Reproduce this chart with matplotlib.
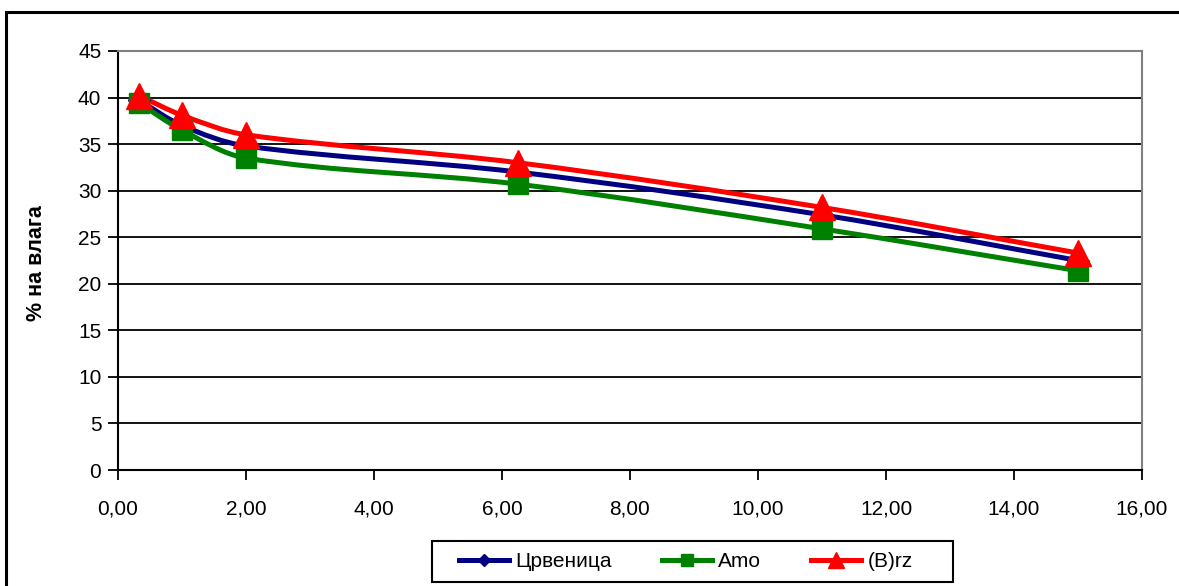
import numpy as np
import matplotlib
matplotlib.use("Agg")
import matplotlib.pyplot as plt
from matplotlib.path import Path
from matplotlib.patches import PathPatch, Rectangle
from matplotlib.lines import Line2D
from matplotlib.ticker import FuncFormatter, MultipleLocator

plt.rcParams['font.family'] = ['Liberation Sans', 'DejaVu Sans']

# data
x_vals = [0.33, 1.0, 2.0, 6.25, 11.0, 15.0]
crvenica = [39.7, 37.0, 34.8, 32.0, 27.4, 22.5]
amo = [39.4, 36.5, 33.5, 30.7, 25.9, 21.4]
brz = [40.2, 38.1, 36.0, 33.0, 28.2, 23.3]
names = ['Црвеница', 'Amo', '(B)rz']
colors = ['#000080', '#008000', '#FF0000']
markers = ['D', 's', '^']
msizes = [11, 15, 19]

# px per data unit, only used to weigh the bezier handles
SX, SY = 64.0, 9.31
W, H = 1179, 586


def smooth_path(xs, ys):
    # bezier path like excel's smoothed line
    p = np.column_stack([xs, ys])
    n = len(p)
    seg = [np.hypot((p[i + 1, 0] - p[i, 0]) * SX, (p[i + 1, 1] - p[i, 1]) * SY)
           for i in range(n - 1)]
    verts = [p[0]]
    codes = [Path.MOVETO]
    for i in range(n - 1):
        if i > 0:
            t0 = (p[i + 1] - p[i - 1]) * seg[i] / (seg[i - 1] + seg[i])
        else:
            t0 = p[i + 1] - p[i]
        if i + 2 < n:
            t1 = (p[i + 2] - p[i]) * seg[i] / (seg[i] + seg[i + 1])
        else:
            t1 = p[i + 1] - p[i]
        c1 = p[i] + t0 / 3.0
        c2 = p[i + 1] - t1 / 3.0
        verts += [c1, c2, p[i + 1]]
        codes += [Path.CURVE4] * 3
    return Path(verts, codes)


fig = plt.figure(figsize=(W / 100, H / 100), dpi=100)
ax = fig.add_axes([118 / W, 1 - 470 / H, 1024 / W, 419 / H])

series = [crvenica, amo, brz]
for ys, c, m, ms in zip(series, colors, markers, msizes):
    ax.add_patch(PathPatch(smooth_path(x_vals, ys), facecolor='none',
                           edgecolor=c, lw=3.6, zorder=3, capstyle='round'))
    ax.plot(x_vals, ys, ls='none', marker=m, ms=ms, color=c, zorder=4)

ax.set_xlim(0, 16)
ax.set_ylim(0, 45)
ax.xaxis.set_major_locator(MultipleLocator(2))
ax.yaxis.set_major_locator(MultipleLocator(5))
ax.xaxis.set_major_formatter(FuncFormatter(lambda v, p: f"{v:.2f}".replace('.', ',')))
ax.yaxis.set_major_formatter(FuncFormatter(lambda v, p: f"{v:.0f}"))
ax.tick_params(axis='both', direction='out', length=7, width=1.3,
               labelsize=15, pad=5, color='black')
ax.tick_params(axis='x', pad=14)
ax.grid(axis='y', color='black', lw=1.3, zorder=1)
ax.set_axisbelow(True)
for s in ['left', 'bottom']:
    ax.spines[s].set_color('black')
    ax.spines[s].set_linewidth(1.5)
for s in ['top', 'right']:
    ax.spines[s].set_color('#808080')
    ax.spines[s].set_linewidth(1.5)

fig.text(36 / W, 1 - 263 / H, '% на влага', fontsize=15.5,
         fontweight='bold', rotation=90, ha='center', va='center')

handles = [Line2D([], [], color=c, lw=3.6, marker=m, ms=ms * 0.6)
           for c, m, ms in zip(colors, markers, msizes)]
leg = fig.legend(handles, names, loc='center', bbox_to_anchor=(686 / W, 1 - 561.5 / H),
                 ncol=3, fontsize=15, frameon=False,
                 handlelength=2.4, columnspacing=2.4, borderpad=0.2,
                 handletextpad=0.3)
# legend box drawn by hand, excel pads it unevenly
fig.patches.append(Rectangle((432 / W, 1 - 582 / H), 521 / W, 41 / H,
                             transform=fig.transFigure, fill=False,
                             edgecolor='black', lw=1.5))

# outer chart border
fig.patches.append(Rectangle((6 / W, -0.05), 1.2, 1 - 12 / H + 0.05,
                             transform=fig.transFigure, fill=False,
                             edgecolor='black', lw=2.2))

fig.savefig('out.png', dpi=100)
